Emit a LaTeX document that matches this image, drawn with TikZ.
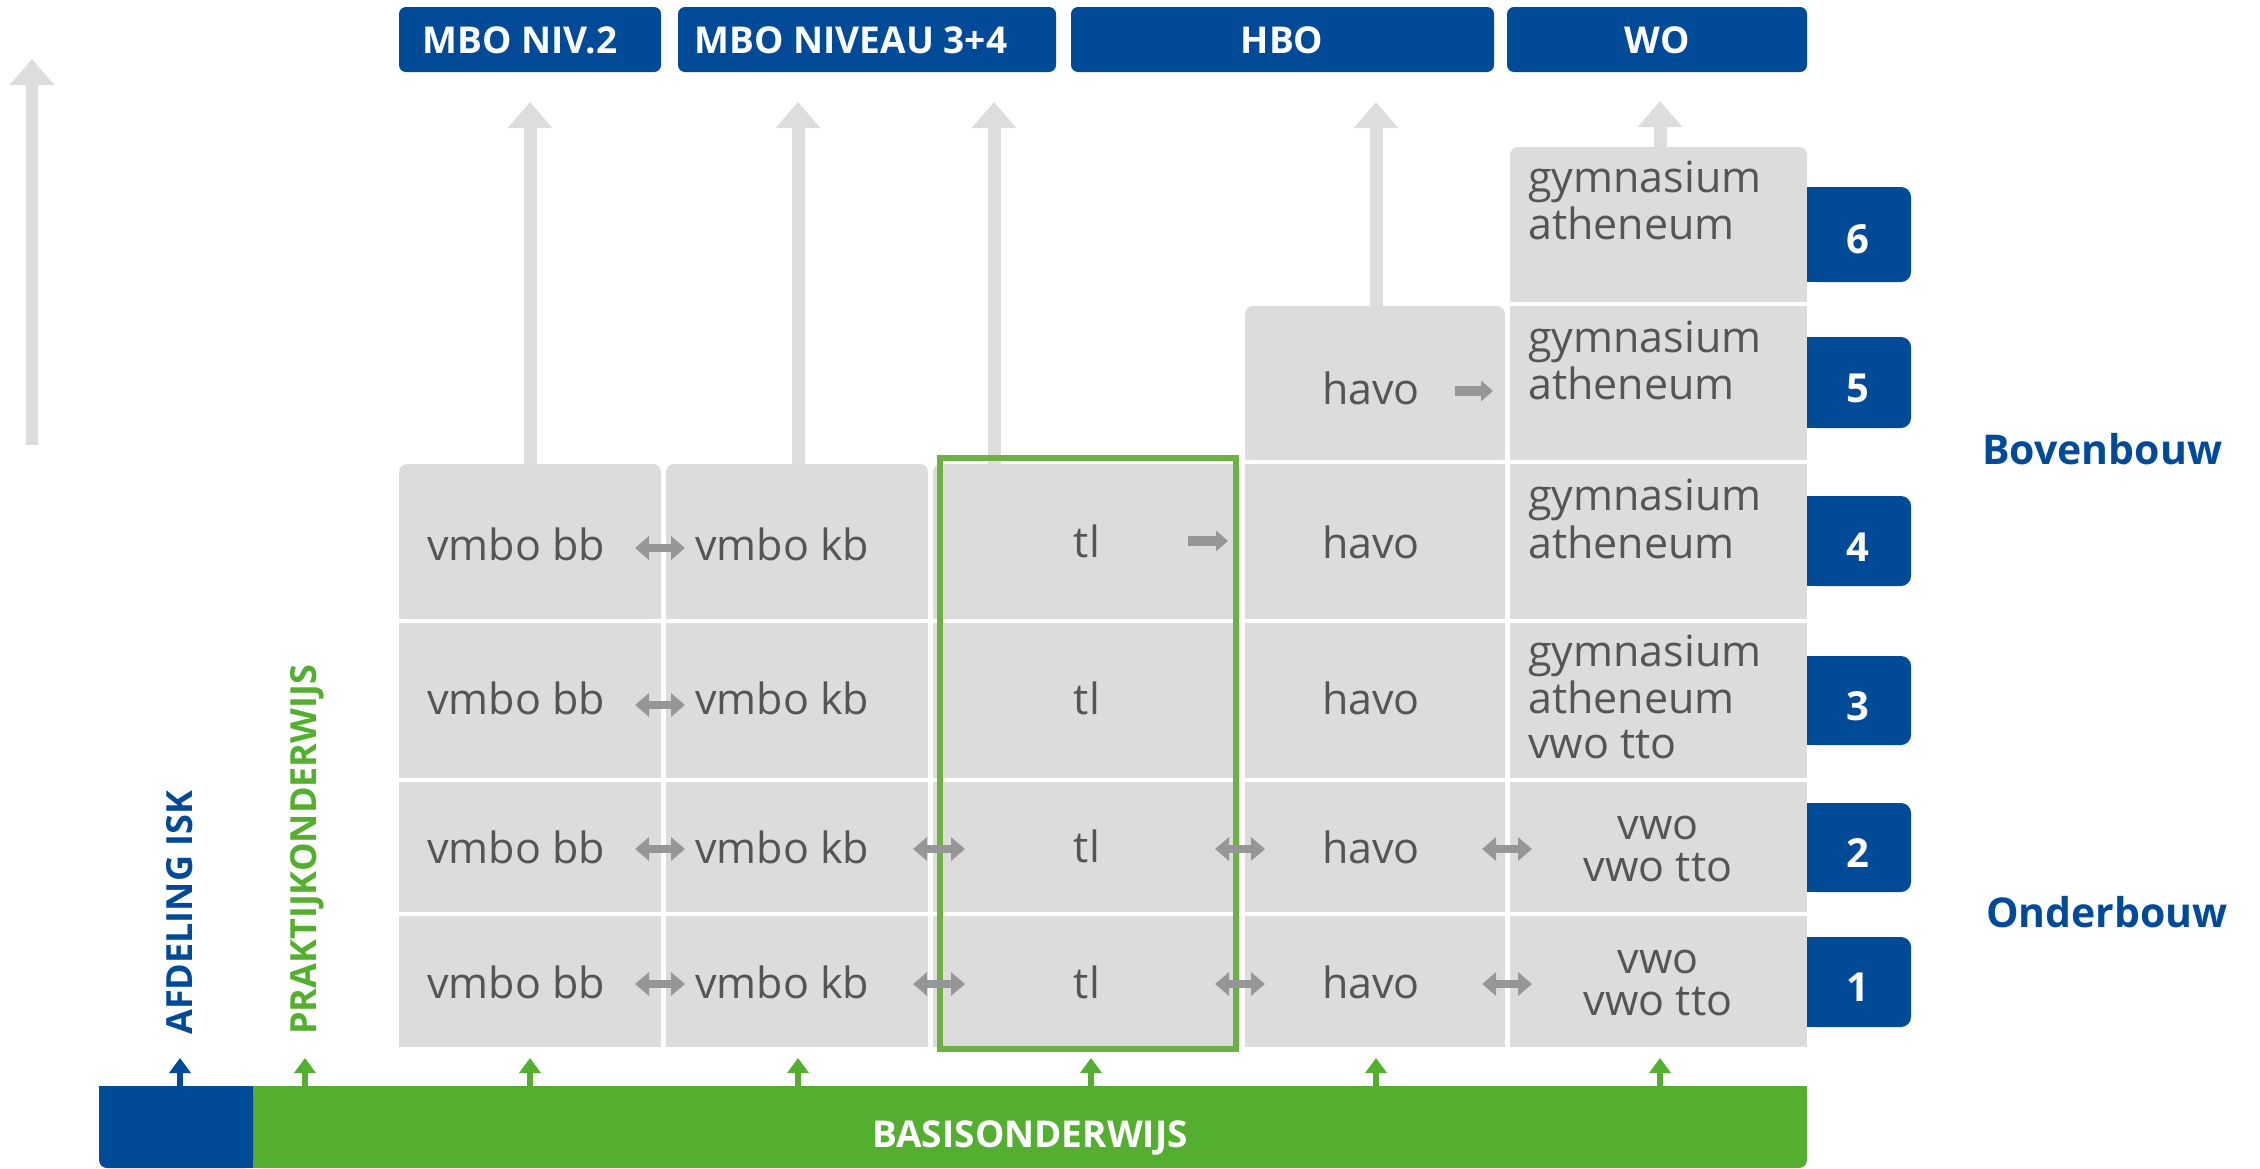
\documentclass[tikz,border=0pt]{standalone}
\usepackage{fontspec}
\setmainfont{Open Sans}
\usetikzlibrary{arrows.meta,fit}
\definecolor{rblue}{RGB}{0,74,152}
\definecolor{rgreen}{RGB}{84,174,48}
\definecolor{bgreen}{RGB}{108,176,70}
\definecolor{cellgrey}{RGB}{220,220,220}
\definecolor{txtgrey}{RGB}{85,85,85}
\definecolor{arrgrey}{RGB}{150,150,150}
\definecolor{upgrey}{RGB}{221,221,221}
\begin{document}
\begin{tikzpicture}[x=1pt,y=-1pt,
  cell/.style={fill=cellgrey, inner sep=0pt, outer sep=0pt, draw=none},
  tcell/.style={cell, rounded corners=8pt},
  hdr/.style={fill=rblue, rounded corners=7pt, inner sep=0pt, outer sep=0pt},
  hdrtxt/.style={text=white, font=\fontsize{37}{40}\selectfont\bfseries, inner sep=0pt},
  ctxt/.style={text=txtgrey, font=\fontsize{43}{47}\selectfont, inner sep=0pt},
  nbox/.style={fill=rblue, rounded corners=10pt, inner sep=0pt, outer sep=0pt},
  ntxt/.style={text=white, font=\fontsize{40}{44}\selectfont\bfseries, inner sep=0pt},
  sidetxt/.style={text=rblue, font=\fontsize{41}{44}\selectfont\bfseries, inner sep=0pt, anchor=base west},
  vtxt/.style={font=\fontsize{36}{40}\selectfont\bfseries, inner sep=0pt, anchor=base west, rotate=90},
  uparr/.style={draw=upgrey, line width=13pt, -{Triangle[width=43pt,length=26pt]}},
  darr/.style={draw=arrgrey, line width=8pt, {Triangle[width=23pt,length=14pt]}-{Triangle[width=23pt,length=14pt]}},
  sarr/.style={draw=arrgrey, line width=10pt, -{Triangle[width=20pt,length=12pt]}},
  barr/.style={line width=6pt, -{Triangle[width=21pt,length=15pt]}},
]
\useasboundingbox (0,0) rectangle (2260,1168);

% ---------- up arrows (behind the cells)
\coordinate (la) at (32,445);   \coordinate (lb) at (32,59);
\coordinate (u1a) at (530,470); \coordinate (u1b) at (530,102);
\coordinate (u2a) at (798,470); \coordinate (u2b) at (798,102);
\coordinate (u3a) at (994,470); \coordinate (u3b) at (994,102);
\coordinate (u4a) at (1376,312); \coordinate (u4b) at (1376,102);
\coordinate (u5a) at (1660,153); \coordinate (u5b) at (1660,101);
\draw[uparr, line width=12pt] (la) -- (lb);
\draw[uparr] (u1a) -- (u1b);
\draw[uparr] (u2a) -- (u2b);
\draw[uparr] (u3a) -- (u3b);
\draw[uparr] (u4a) -- (u4b);
\draw[uparr] (u5a) -- (u5b);

% ---------- header boxes
\node[hdr, fit={(399,7)(661,72)}] (h1) {};
\node[hdr, fit={(678,7)(1056,72)}] (h2) {};
\node[hdr, fit={(1071,7)(1494,72)}] (h3) {};
\node[hdr, fit={(1507,7)(1807,72)}] (h4) {};
\node[hdrtxt, anchor=base] (h1t) at (520,53) {MBO NIV.2};
\node[hdrtxt, anchor=base] (h2t) at (851,53) {MBO NIVEAU 3+4};
\node[hdrtxt, anchor=base] (h3t) at (1282,53) {HBO};
\node[hdrtxt, anchor=base] (h4t) at (1657,53) {WO};

% ---------- cells column 1
\node[tcell, fit={(399,464)(661,619)}] (c14) {};
\fill[cellgrey] (c14.west) rectangle (c14.south east);
\node[cell, fit={(399,623)(661,778)}] (c13) {};
\node[cell, fit={(399,782)(661,912)}] (c12) {};
\node[cell, fit={(399,916)(661,1047)}] (c11) {};
% column 2
\node[tcell, fit={(666,464)(928,619)}] (c24) {};
\fill[cellgrey] (c24.west) rectangle (c24.south east);
\node[cell, fit={(666,623)(928,778)}] (c23) {};
\node[cell, fit={(666,782)(928,912)}] (c22) {};
\node[cell, fit={(666,916)(928,1047)}] (c21) {};
% column 3
\node[tcell, fit={(933,464)(1240,619)}] (c34) {};
\fill[cellgrey] (c34.west) rectangle (c34.south east);
\node[cell, fit={(933,623)(1240,778)}] (c33) {};
\node[cell, fit={(933,782)(1240,912)}] (c32) {};
\node[cell, fit={(933,916)(1240,1047)}] (c31) {};
% column 4
\node[tcell, fit={(1245,306)(1505,460)}] (c45) {};
\fill[cellgrey] (c45.west) rectangle (c45.south east);
\node[cell, fit={(1245,464)(1505,619)}] (c44) {};
\node[cell, fit={(1245,623)(1505,778)}] (c43) {};
\node[cell, fit={(1245,782)(1505,912)}] (c42) {};
\node[cell, fit={(1245,916)(1505,1047)}] (c41) {};
% column 5
\node[tcell, fit={(1510,147)(1807,302)}] (c56) {};
\fill[cellgrey] (c56.west) rectangle (c56.south east);
\node[cell, fit={(1510,306)(1807,460)}] (c55) {};
\node[cell, fit={(1510,464)(1807,619)}] (c54) {};
\node[cell, fit={(1510,623)(1807,778)}] (c53) {};
\node[cell, fit={(1510,782)(1807,912)}] (c52) {};
\node[cell, fit={(1510,916)(1807,1047)}] (c51) {};

% ---------- green frame round the tl column
\node[draw=bgreen, line width=6pt, inner sep=0pt, fit={(940,458)(1236,1049)}] (frame) {};

% ---------- number boxes
\node[nbox, fit={(1807,187)(1911,282)}] (n6) {};
\node[nbox, fit={(1807,337)(1911,428)}] (n5) {};
\node[nbox, fit={(1807,496)(1911,586)}] (n4) {};
\node[nbox, fit={(1807,656)(1911,745)}] (n3) {};
\node[nbox, fit={(1807,803)(1911,892)}] (n2) {};
\node[nbox, fit={(1807,937)(1911,1027)}] (n1) {};
\foreach \k in {1,...,6} {\fill[rblue] (n\k.north west) rectangle (n\k.south);}
\node[ntxt, anchor=base] (n6t) at (1858,253) {6};
\node[ntxt, anchor=base] (n5t) at (1858,402) {5};
\node[ntxt, anchor=base] (n4t) at (1858,561) {4};
\node[ntxt, anchor=base] (n3t) at (1858,720) {3};
\node[ntxt, anchor=base] (n2t) at (1858,867) {2};
\node[ntxt, anchor=base] (n1t) at (1858,1001) {1};

\node[sidetxt] (bov) at (1982,464) {Bovenbouw};
\node[sidetxt] (ond) at (1986,927) {Onderbouw};

% ---------- cell texts
\node[ctxt, anchor=base west] (t14) at (427,560) {vmbo bb};
\node[ctxt, anchor=base west] (t13) at (427,714) {vmbo bb};
\node[ctxt, anchor=base west] (t12) at (427,863) {vmbo bb};
\node[ctxt, anchor=base west] (t11) at (427,998) {vmbo bb};
\node[ctxt, anchor=base west] (t24) at (695,560) {vmbo kb};
\node[ctxt, anchor=base west] (t23) at (695,714) {vmbo kb};
\node[ctxt, anchor=base west] (t22) at (695,863) {vmbo kb};
\node[ctxt, anchor=base west] (t21) at (695,998) {vmbo kb};
\node[ctxt, anchor=base] (t34) at (1087,557) {tl};
\node[ctxt, anchor=base] (t33) at (1087,714) {tl};
\node[ctxt, anchor=base] (t32) at (1087,862) {tl};
\node[ctxt, anchor=base] (t31) at (1087,998) {tl};
\node[ctxt, anchor=base] (t45) at (1371,404) {havo};
\node[ctxt, anchor=base] (t44) at (1371,558) {havo};
\node[ctxt, anchor=base] (t43) at (1371,714) {havo};
\node[ctxt, anchor=base] (t42) at (1371,863) {havo};
\node[ctxt, anchor=base] (t41) at (1371,998) {havo};
\node[ctxt, anchor=base west] (t56a) at (1528,192) {gymnasium};
\node[ctxt, anchor=base west] (t56b) at (1528,239) {atheneum};
\node[ctxt, anchor=base west] (t55a) at (1528,352) {gymnasium};
\node[ctxt, anchor=base west] (t55b) at (1528,399) {atheneum};
\node[ctxt, anchor=base west] (t54a) at (1528,510) {gymnasium};
\node[ctxt, anchor=base west] (t54b) at (1528,558) {atheneum};
\node[ctxt, anchor=base west] (t53a) at (1528,666) {gymnasium};
\node[ctxt, anchor=base west] (t53b) at (1528,713) {atheneum};
\node[ctxt, anchor=base west] (t53c) at (1528,758) {vwo tto};
\node[ctxt, anchor=base] (t52a) at (1658,839) {vwo};
\node[ctxt, anchor=base] (t52b) at (1658,881) {vwo tto};
\node[ctxt, anchor=base] (t51a) at (1658,973) {vwo};
\node[ctxt, anchor=base] (t51b) at (1658,1015) {vwo tto};

% ---------- grey arrows between cells
\coordinate (d4a) at (635,548); \coordinate (d4b) at (685,548);
\coordinate (d3a) at (635,705); \coordinate (d3b) at (685,705);
\coordinate (d2a) at (635,849); \coordinate (d2b) at (685,849);
\coordinate (d2c) at (913,849); \coordinate (d2d) at (965,849);
\coordinate (d2e) at (1215,849); \coordinate (d2f) at (1265,849);
\coordinate (d2g) at (1482,849); \coordinate (d2h) at (1532,849);
\coordinate (d1a) at (635,984); \coordinate (d1b) at (685,984);
\coordinate (d1c) at (913,984); \coordinate (d1d) at (965,984);
\coordinate (d1e) at (1215,984); \coordinate (d1f) at (1265,984);
\coordinate (d1g) at (1482,984); \coordinate (d1h) at (1532,984);
\draw[darr] (d4a) -- (d4b);
\draw[darr] (d3a) -- (d3b);
\draw[darr] (d2a) -- (d2b);
\draw[darr] (d2c) -- (d2d);
\draw[darr] (d2e) -- (d2f);
\draw[darr] (d2g) -- (d2h);
\draw[darr] (d1a) -- (d1b);
\draw[darr] (d1c) -- (d1d);
\draw[darr] (d1e) -- (d1f);
\draw[darr] (d1g) -- (d1h);
\coordinate (s4a) at (1188,541); \coordinate (s4b) at (1228,541);
\coordinate (s5a) at (1455,391); \coordinate (s5b) at (1493,391);
\draw[sarr] (s4a) -- (s4b);
\draw[sarr] (s5a) -- (s5b);

% ---------- base bar
\node[fill=rgreen, rounded corners=8pt, inner sep=0pt, outer sep=0pt, fit={(253,1086)(1807,1168)}] (gbar) {};
\fill[rgreen] (gbar.north west) rectangle (gbar.east);
\fill[rgreen] (gbar.north west) rectangle (gbar.south);
\node[fill=rblue, rounded corners=8pt, inner sep=0pt, outer sep=0pt, fit={(99,1086)(253,1168)}] (bbar) {};
\fill[rblue] (bbar.north west) rectangle (bbar.east);
\fill[rblue] (bbar.north) rectangle (bbar.south east);
\node[text=white, font=\fontsize{37}{40}\selectfont\bfseries, inner sep=0pt, anchor=base] (btxt) at (1030,1147) {BASISONDERWIJS};

% ---------- small arrows on the bar
\coordinate (b0a) at (180,1086); \coordinate (b0b) at (180,1058);
\draw[barr, draw=rblue] (b0a) -- (b0b);
\foreach \i/\xx in {1/305,2/530,3/798,4/1091,5/1376,6/1660} {
  \coordinate (b\i a) at (\xx,1086); \coordinate (b\i b) at (\xx,1058);
  \draw[barr, draw=rgreen] (b\i a) -- (b\i b);
}

% ---------- vertical labels
\node[vtxt, text=rblue] (isk) at (192,1035) {AFDELING ISK};
\node[vtxt, text=rgreen] (pro) at (316,1035) {PRAKTIJKONDERWIJS};
\end{tikzpicture}
\end{document}
